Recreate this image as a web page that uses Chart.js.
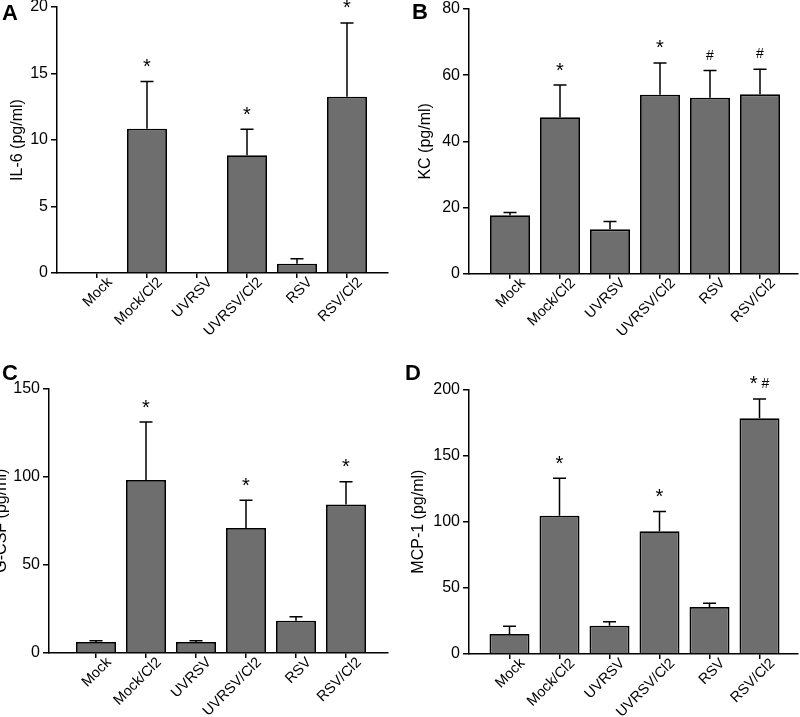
<!DOCTYPE html>
<html><head><meta charset="utf-8">
<script src="https://cdn.jsdelivr.net/npm/chart.js@4.4.1/dist/chart.umd.min.js"></script>
<style>
html,body{margin:0;padding:0;background:#fff;width:800px;height:717px;overflow:hidden;position:relative;font-family:"Liberation Sans",Arial,sans-serif}
.wrap{position:absolute}
.letter{position:absolute;font-weight:bold;font-size:22px;line-height:1;color:#000}
</style></head><body>
<div class="wrap" style="left:0;top:-20px;width:400px;height:380px"><canvas id="cA"></canvas></div>
<div class="wrap" style="left:400px;top:-20px;width:400px;height:380px"><canvas id="cB"></canvas></div>
<div class="wrap" style="left:0;top:340px;width:400px;height:377px"><canvas id="cC"></canvas></div>
<div class="wrap" style="left:400px;top:340px;width:400px;height:377px"><canvas id="cD"></canvas></div>
<div class="letter" style="left:2px;top:2px">A</div>
<div class="letter" style="left:412px;top:1px">B</div>
<div class="letter" style="left:2px;top:362px">C</div>
<div class="letter" style="left:405px;top:362px">D</div>
<script>
// ---- data ----
const categories = ['Mock', 'Mock/Cl2', 'UVRSV', 'UVRSV/Cl2', 'RSV', 'RSV/Cl2'];

const il6Values = [0, 10.85, 0, 8.85, 0.7, 13.25];
const il6Errors = [0, 3.55, 0, 1.95, 0.37, 5.55];
const il6Marks  = ['', '*', '', '*', '', '*'];

const kcValues = [17.7, 47.3, 13.4, 54.1, 53.2, 54.2];
const kcErrors = [0.8, 9.7, 2.4, 9.6, 8.2, 7.6];
const kcMarks  = ['', '*', '', '*', '#', '#'];

const gcsfValues = [6.2, 98.0, 6.2, 70.8, 18.3, 84.1];
const gcsfErrors = [0.8, 32.9, 0.8, 15.7, 2.3, 13.0];
const gcsfMarks  = ['', '*', '', '*', '', '*'];

const mcp1Values = [15.1, 104.5, 21.4, 92.7, 35.5, 178.1];
const mcp1Errors = [5.8, 28.2, 3.0, 14.9, 2.8, 14.6];
const mcp1Marks  = ['', '*', '', '*', '', '* #'];

const il6Ticks  = {max: 20,  step: 5};
const kcTicks   = {max: 80,  step: 20};
const gcsfTicks = {max: 150, step: 50};
const mcp1Ticks = {max: 200, step: 50};

// ---- rendering ----
const FONT = '"Liberation Sans", Arial, sans-serif';

const errorBarPlugin = {
  id: 'errbars',
  afterDatasetsDraw(chart) {
    const ctx = chart.ctx;
    const meta = chart.getDatasetMeta(0);
    const ys = chart.scales.y;
    const ds = chart.data.datasets[0];
    ctx.save();
    ctx.strokeStyle = '#000';
    ctx.lineWidth = 1.5;
    ctx.fillStyle = '#000';
    ctx.textAlign = 'left';
    ctx.textBaseline = 'alphabetic';
    meta.data.forEach((bar, i) => {
      const v = ds.data[i].y;
      const e = ds.errors[i];
      const yBase = ys.getPixelForValue(v);
      const yTop = ys.getPixelForValue(v + e);
      if (e > 0) {
        ctx.beginPath();
        ctx.moveTo(bar.x, yBase);
        ctx.lineTo(bar.x, yTop);
        ctx.moveTo(bar.x - 6.5, yTop);
        ctx.lineTo(bar.x + 6.5, yTop);
        ctx.stroke();
      }
      const m = ds.marks[i];
      if (!m) return;
      const toks = m.split(' ');
      const fonts = toks.map(t => t === '*' ? '20px ' + FONT : '14px ' + FONT);
      const widths = toks.map((t, k) => { ctx.font = fonts[k]; return ctx.measureText(t).width; });
      const gap = 4;
      const total = widths.reduce((a, b) => a + b, 0) + gap * (toks.length - 1);
      let x = bar.x - total / 2;
      toks.forEach((t, k) => {
        ctx.font = fonts[k];
        ctx.fillText(t, x, t === '*' ? yTop - 8.5 : yTop - 11);
        x += widths[k] + gap;
      });
    });
    ctx.restore();
  }
};

function makeChart(id, values, errors, marks, ticks, title, geo) {
  new Chart(document.getElementById(id), {
    type: 'bar',
    data: {
      datasets: [{
        data: values.map((v, i) => ({x: i, y: v})),
        errors: errors,
        marks: marks,
        backgroundColor: '#6e6e6e',
        borderColor: '#000',
        borderWidth: 1.8,
        barPercentage: 0.8,
        categoryPercentage: 1.0
      }]
    },
    options: {
      responsive: true,
      maintainAspectRatio: false,
      animation: false,
      events: [],
      layout: {padding: {left: 0, top: geo.padTop, right: geo.padRight, bottom: 0}},
      plugins: {legend: {display: false}, tooltip: {enabled: false}},
      scales: {
        x: {
          type: 'linear',
          offset: false,
          min: geo.xMin,
          max: geo.xMax,
          afterBuildTicks: s => { s.ticks = categories.map((c, i) => ({value: i})); },
          afterFit: s => { s.height = geo.xHeight; },
          grid: {display: true, offset: false, drawOnChartArea: false, drawTicks: true, tickLength: 5, color: '#000', lineWidth: 1.5},
          border: {display: true, color: '#000', width: 1.5},
          ticks: {
            callback: v => categories[v],
            autoSkip: false,
            maxRotation: 45, minRotation: 45,
            padding: -4,
            labelOffset: 13,
            color: '#000',
            font: {family: FONT, size: 14.5}
          }
        },
        y: {
          min: 0,
          max: ticks.max,
          afterFit: s => { s.width = geo.yWidth; },
          grid: {display: true, drawOnChartArea: false, drawTicks: true, tickLength: 6, color: '#000', lineWidth: 1.5},
          border: {display: true, color: '#000', width: 1.5},
          ticks: {stepSize: ticks.step, padding: 3, color: '#000', font: {family: FONT, size: 16}},
          title: {display: true, text: title, color: '#000', font: {family: FONT, size: 16}, padding: {top: geo.titlePad, bottom: 0}}
        }
      }
    },
    plugins: [errorBarPlugin]
  });
}

makeChart('cA', il6Values, il6Errors, il6Marks, il6Ticks, 'IL-6 (pg/ml)',
  {padTop: 27, padRight: 12, xHeight: 87, yWidth: 57, xMin: -0.8, xMax: 5.82, titlePad: 7.5});
makeChart('cB', kcValues, kcErrors, kcMarks, kcTicks, 'KC (pg/ml)',
  {padTop: 29, padRight: 2, xHeight: 86.3, yWidth: 69, xMin: -0.82, xMax: 5.76, titlePad: 15.5});
makeChart('cC', gcsfValues, gcsfErrors, gcsfMarks, gcsfTicks, 'G-CSF (pg/ml)',
  {padTop: 48.3, padRight: 12, xHeight: 64, yWidth: 49, xMin: -0.94, xMax: 5.84, titlePad: -8});
makeChart('cD', mcp1Values, mcp1Errors, mcp1Marks, mcp1Ticks, 'MCP-1 (pg/ml)',
  {padTop: 49.3, padRight: 2, xHeight: 63, yWidth: 69, xMin: -0.81, xMax: 5.77, titlePad: 9});
</script>
</body></html>
